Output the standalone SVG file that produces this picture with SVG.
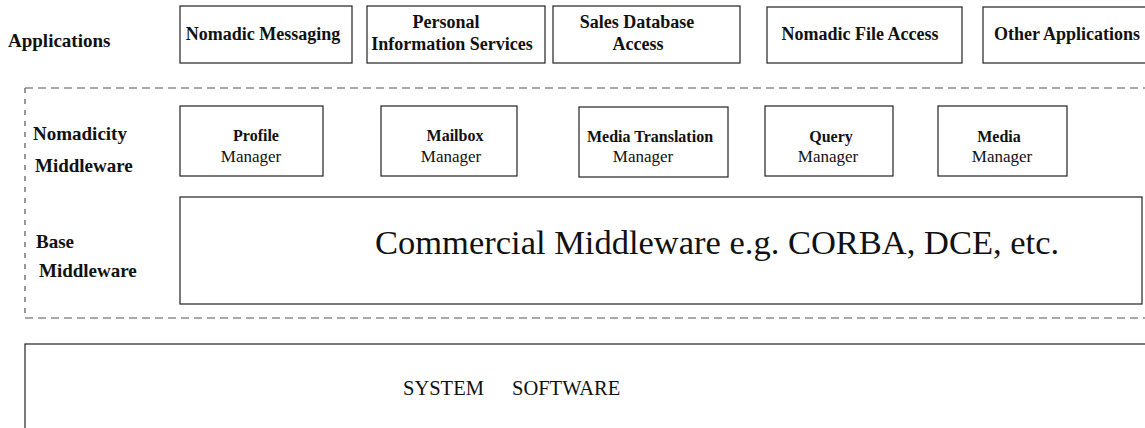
<svg xmlns="http://www.w3.org/2000/svg" width="1145" height="428" viewBox="0 0 1145 428">
<style>
.box{fill:#fff;stroke:#222;stroke-width:1.2}
.b{font-family:"Liberation Serif","Times New Roman",serif;font-weight:bold;fill:#111}
.r{font-family:"Liberation Serif","Times New Roman",serif;fill:#111}
.app{font-size:18px;text-anchor:middle}
.lab{font-size:19px}
.mb{font-size:16px;text-anchor:middle}
.mr{font-size:17px;text-anchor:middle}
.dh{stroke:#555;stroke-width:1.2;stroke-dasharray:8 5;fill:none}
.dv{stroke:#555;stroke-width:1.2;stroke-dasharray:5 6;fill:none}
</style>
<rect width="1145" height="428" fill="#fff"/>
<g id="labels">
<text class="b lab" x="8" y="47">Applications</text>
<text class="b lab" x="33" y="140">Nomadicity</text>
<text class="b lab" x="35" y="172">Middleware</text>
<text class="b lab" x="36" y="248">Base</text>
<text class="b lab" x="39" y="277">Middleware</text>
</g>
<g id="middleware-frame">
<line class="dh" x1="25" y1="88" x2="1150" y2="88"/>
<line class="dh" x1="25" y1="318" x2="1150" y2="318"/>
<line class="dv" x1="25" y1="88" x2="25" y2="318"/>
</g>
<g id="app-nomadic-messaging">
<rect class="box" x="180" y="6" width="172" height="57"/>
<text class="b app" x="263" y="40">Nomadic Messaging</text>
</g>
<g id="app-personal-info">
<rect class="box" x="367" y="6" width="178" height="57"/>
<text class="b app" x="446" y="28">Personal</text>
<text class="b app" x="452" y="50">Information Services</text>
</g>
<g id="app-sales-db">
<rect class="box" x="553" y="6" width="187" height="57"/>
<text class="b app" x="637" y="28">Sales Database</text>
<text class="b app" x="638" y="50">Access</text>
</g>
<g id="app-nomadic-file">
<rect class="box" x="767" y="7" width="195" height="56"/>
<text class="b app" x="860" y="40">Nomadic File Access</text>
</g>
<g id="app-other">
<rect class="box" x="983" y="7" width="180" height="56"/>
<text class="b app" x="1067" y="40">Other Applications</text>
</g>
<g id="mgr-profile">
<rect class="box" x="180" y="106" width="143" height="70"/>
<text class="b mb" x="256" y="141">Profile</text>
<text class="r mr" x="251" y="162">Manager</text>
</g>
<g id="mgr-mailbox">
<rect class="box" x="381" y="106" width="136" height="70"/>
<text class="b mb" x="455" y="141">Mailbox</text>
<text class="r mr" x="451" y="162">Manager</text>
</g>
<g id="mgr-media-translation">
<rect class="box" x="579" y="107" width="149" height="70"/>
<text class="b mb" x="650" y="142">Media Translation</text>
<text class="r mr" x="643" y="162">Manager</text>
</g>
<g id="mgr-query">
<rect class="box" x="765" y="106" width="128" height="70"/>
<text class="b mb" x="831" y="142">Query</text>
<text class="r mr" x="828" y="162">Manager</text>
</g>
<g id="mgr-media">
<rect class="box" x="938" y="106" width="129" height="70"/>
<text class="b mb" x="999" y="142">Media</text>
<text class="r mr" x="1002" y="162">Manager</text>
</g>
<g id="base-commercial">
<rect class="box" x="180" y="197" width="962" height="107"/>
<text class="r" x="375" y="254" font-size="34.5">Commercial Middleware e.g. CORBA, DCE, etc.</text>
</g>
<g id="system-software">
<rect class="box" x="25" y="344" width="1140" height="100"/>
<text class="r" x="403" y="395" font-size="20.5">SYSTEM</text>
<text class="r" x="512" y="395" font-size="20.5">SOFTWARE</text>
</g>
<g id="connectors"></g>
</svg>
